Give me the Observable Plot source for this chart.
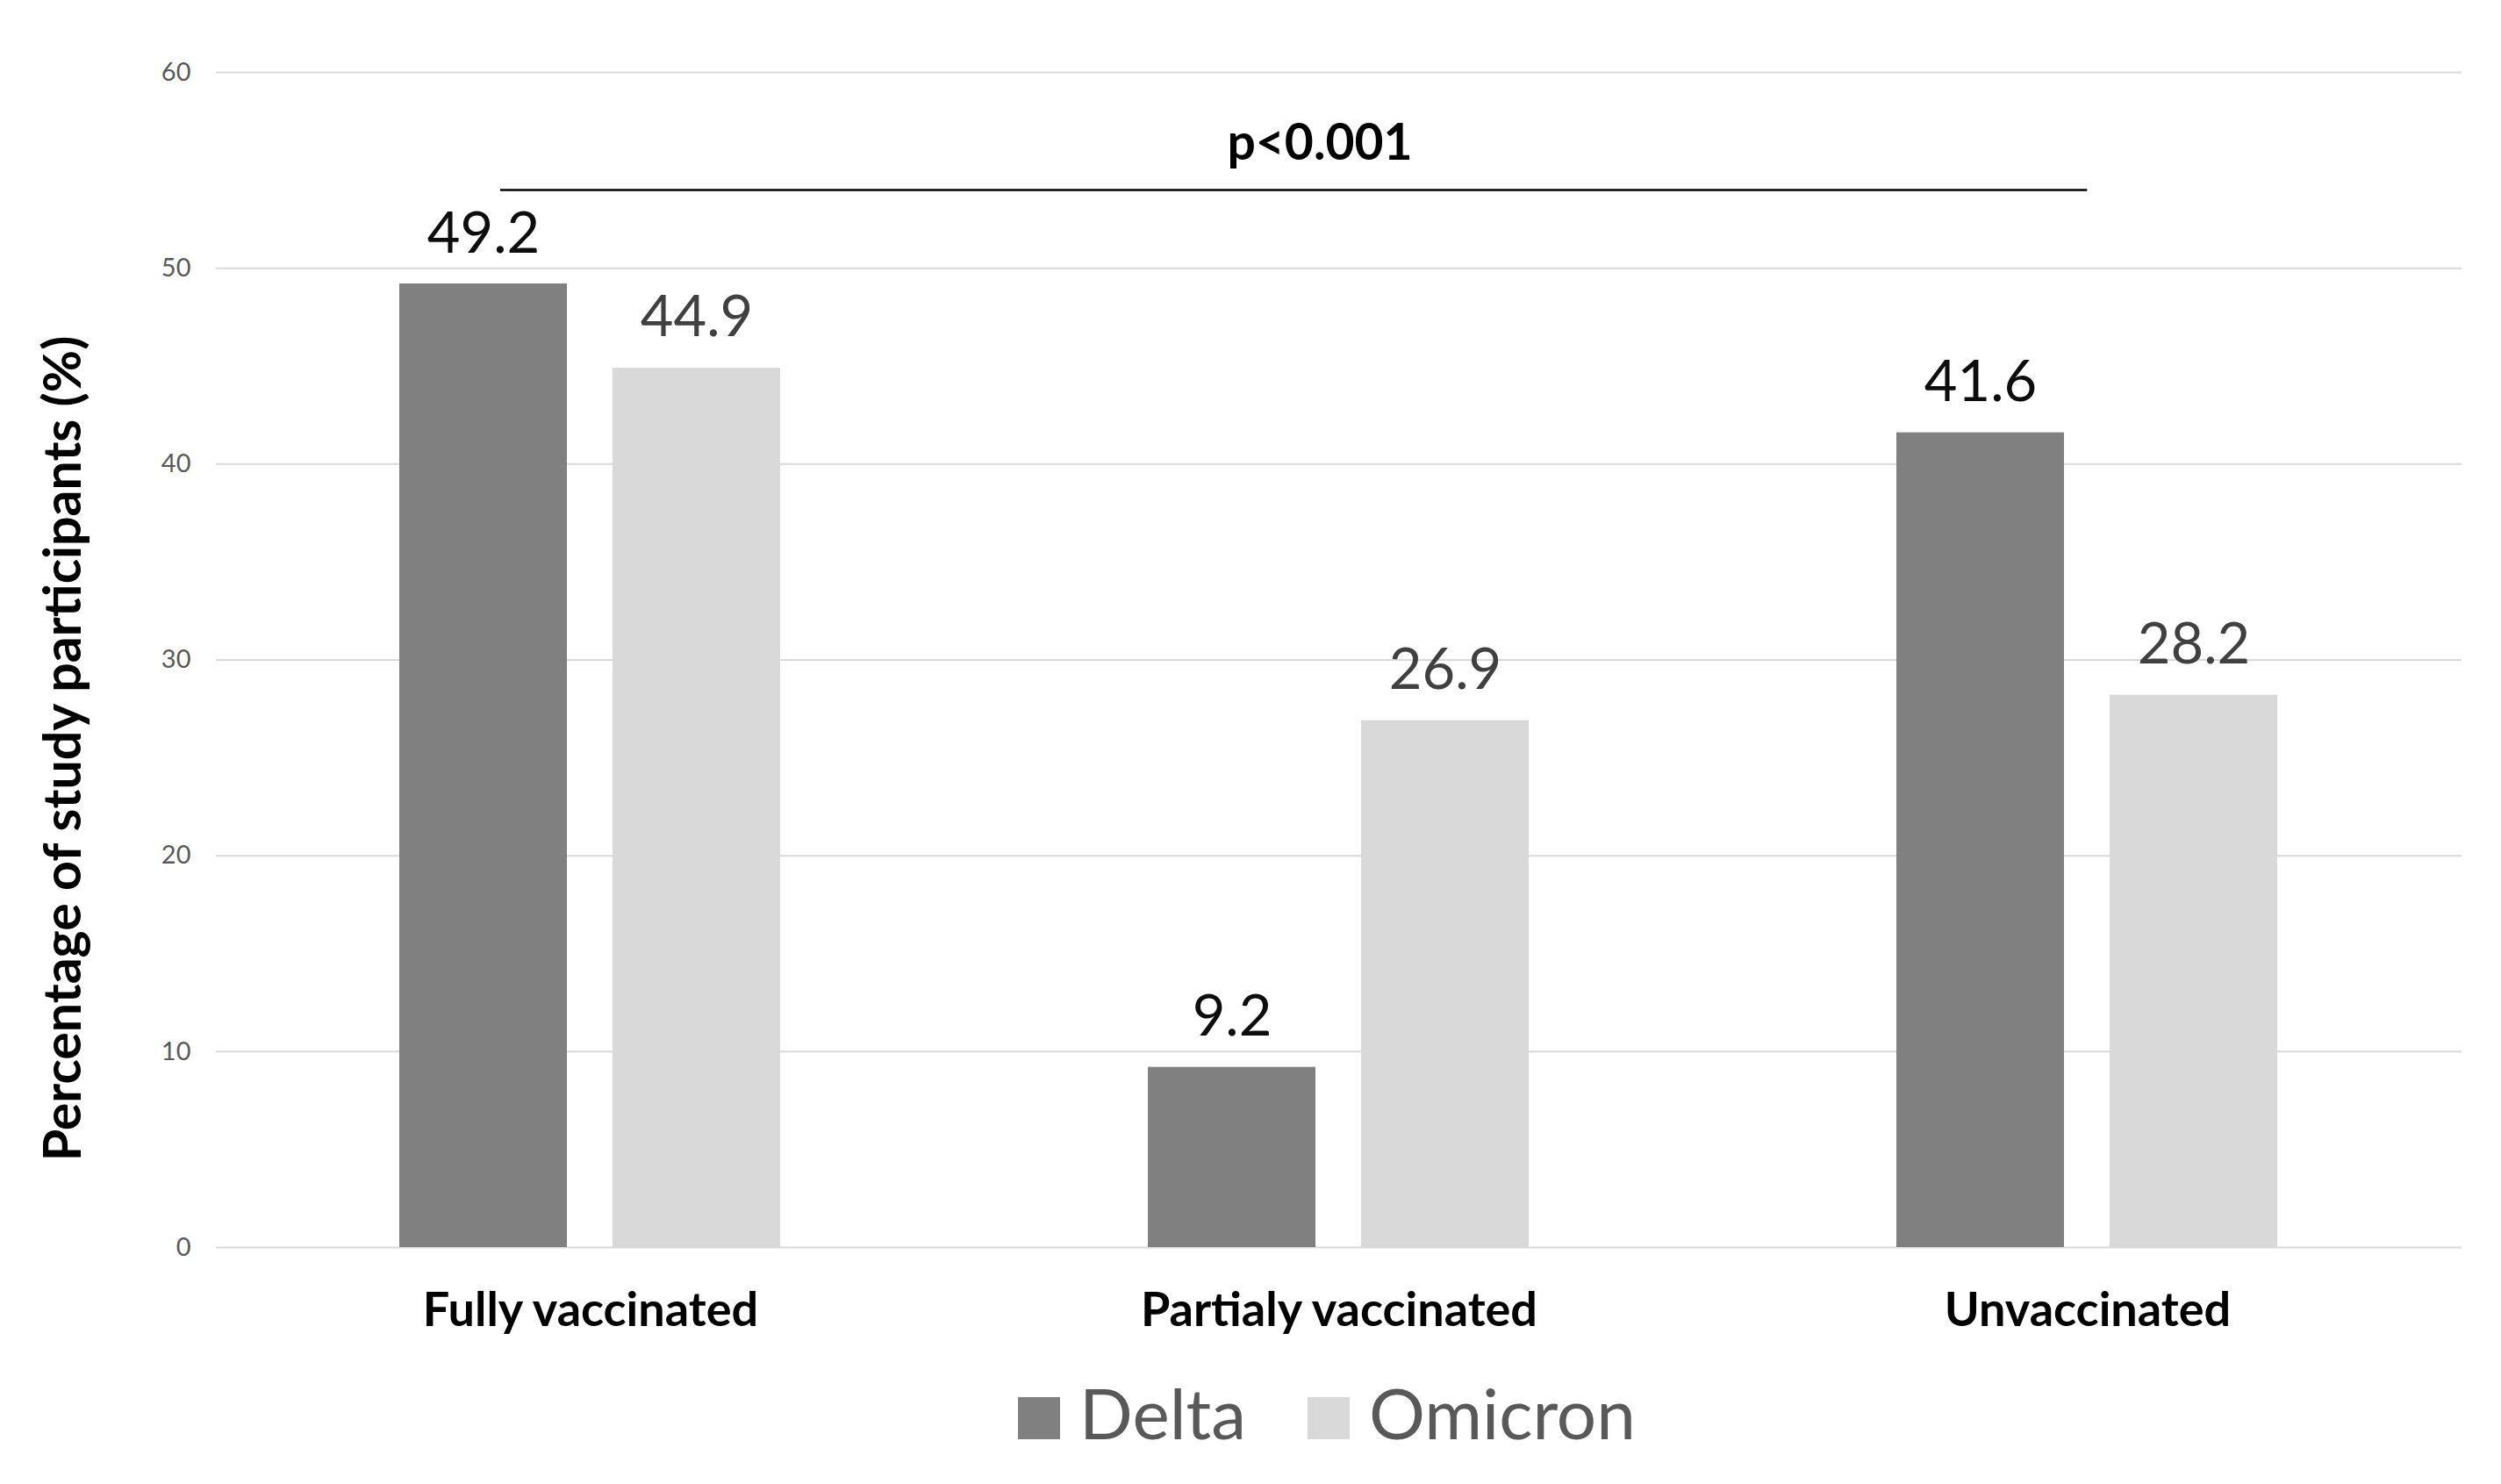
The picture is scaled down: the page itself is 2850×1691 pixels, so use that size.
<!DOCTYPE html>
<html>
<head>
<meta charset="utf-8">
<script src="https://cdn.jsdelivr.net/npm/d3@7"></script>
<script src="https://cdn.jsdelivr.net/npm/@observablehq/plot@0.6"></script>
<style>
  html, body { margin: 0; padding: 0; background: #ffffff; }
  #chart svg { display: block; }
  g[aria-label="y-axis tick label"] text { fill: #595959; font-size: 29px; font-family: Lato, sans-serif; }
  g[aria-label="fx-axis tick label"] text { fill: #000000; font-size: 54px; font-weight: bold; font-family: Lato, sans-serif; }
  #legend { margin: 0 58px 0 232px; text-align: center; font-family: Lato, sans-serif; font-size: 80px; line-height: 78px; color: #595959; padding-top: 25px; }
  #legend .item { display: inline-block; white-space: nowrap; }
  #legend .sw { display: inline-block; width: 48px; height: 48px; vertical-align: baseline; margin-right: 22px; }
  #legend .item + .item { margin-left: 70px; }
</style>
</head>
<body>
<div id="chart"></div>
<div id="legend"></div>
<script>
// ---- data ----
const groups = ["Fully vaccinated", "Partialy vaccinated", "Unvaccinated"];
const series = ["Delta", "Omicron"];
const delta = [49.2, 9.2, 41.6];
const omicron = [44.9, 26.9, 28.2];
const seriesColors = ["#808080", "#d9d9d9"];
const yTicks = [0, 10, 20, 30, 40, 50, 60];
const yTitle = "Percentage of study participants (%)";
const pLabel = "p<0.001";
const pLevel = 54;

const seriesValues = [delta, omicron];
const table = groups.flatMap((g, i) =>
  series.map((s, j) => ({group: g, series: s, value: seriesValues[j][i]}))
);

const W = 2850, H = 1545;
const ML = 245, MR = 45, MT = 82, MB = 124;
const facetW = (W - ML - MR) / groups.length;

const plot = Plot.plot({
  width: W,
  height: H,
  marginLeft: ML,
  marginRight: MR,
  marginTop: MT,
  marginBottom: MB,
  style: {fontFamily: "Lato, sans-serif", fontSize: "29px", background: "#ffffff", color: "#595959", overflow: "visible"},
  fx: {domain: groups, padding: 0, label: null, axis: "bottom", tickSize: 0, tickPadding: 51},
  x: {domain: series, paddingInner: 0.213, paddingOuter: 0.855, axis: null},
  y: {domain: [0, 60], ticks: yTicks, tickSize: 0, tickPadding: 29, label: null, axis: "left"},
  color: {domain: series, range: seriesColors},
  marks: [
    Plot.ruleY(yTicks, {stroke: "#d9d9d9", strokeWidth: 2}),
    Plot.barY(table, {fx: "group", x: "series", y: "value", fill: "series"}),
    Plot.text(table.filter(d => d.series === series[0]), {
      fx: "group", x: "series", y: "value", text: d => d.value.toFixed(1),
      lineAnchor: "bottom", dy: -36, fontSize: 65, fill: "#0d0d0d"
    }),
    Plot.text(table.filter(d => d.series === series[1]), {
      fx: "group", x: "series", y: "value", text: d => d.value.toFixed(1),
      lineAnchor: "bottom", dy: -36, fontSize: 65, fill: "#404040"
    }),
    // significance bracket across groups
    Plot.ruleY([{group: groups[0], v: pLevel}], {fx: "group", y: "v", stroke: "#000", strokeWidth: 2.5, insetLeft: 324}),
    Plot.ruleY([{group: groups[1], v: pLevel}], {fx: "group", y: "v", stroke: "#000", strokeWidth: 2.5}),
    Plot.ruleY([{group: groups[2], v: pLevel}], {fx: "group", y: "v", stroke: "#000", strokeWidth: 2.5, insetRight: facetW / 2}),
    Plot.text([{group: groups[1], t: pLabel}], {
      fx: "group", text: "t", frameAnchor: "top", lineAnchor: "bottom",
      dx: -22, dy: 99, fontSize: 57, fontWeight: "bold", fill: "#000"
    }),
    // y-axis title
    Plot.text([{group: groups[0], t: yTitle}], {
      fx: "group", text: "t", frameAnchor: "left", textAnchor: "middle", rotate: -90, lineAnchor: "bottom",
      dx: -155, dy: 101, fontSize: 59, fontWeight: "bold", fill: "#000"
    })
  ]
});

document.getElementById("chart").appendChild(plot);

// legend (below the SVG)
const legend = document.getElementById("legend");
series.forEach((s, i) => {
  const item = document.createElement("span");
  item.className = "item";
  const sw = document.createElement("span");
  sw.className = "sw";
  sw.style.background = plot.scale("color").apply(s);
  item.appendChild(sw);
  item.appendChild(document.createTextNode(s));
  legend.appendChild(item);
});
</script>
</body>
</html>
